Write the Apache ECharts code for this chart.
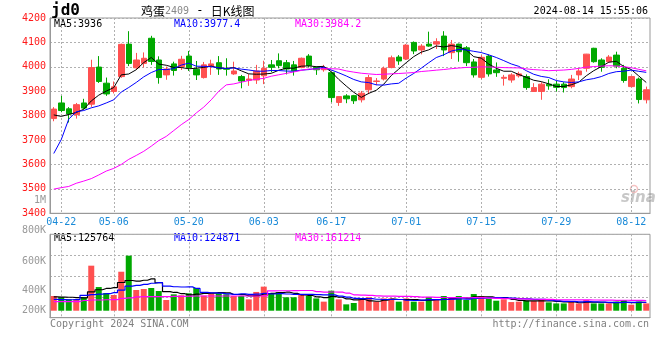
<!DOCTYPE html>
<html><head><meta charset="utf-8">
<script src="https://cdn.jsdelivr.net/npm/echarts@6/dist/echarts.min.js"></script>
<style>html,body{margin:0;padding:0;background:#fff}#c{width:660px;height:360px}</style>
</head><body><div id="c"></div>
<script>
const dates = ['04-19','04-22','04-23','04-24','04-25','04-26','04-29','04-30',
'05-06','05-07','05-08','05-09','05-10','05-13','05-14','05-15','05-16','05-17',
'05-20','05-21','05-22','05-23','05-24','05-27','05-28','05-29','05-30','05-31',
'06-03','06-04','06-05','06-06','06-07','06-11','06-12','06-13','06-14',
'06-17','06-18','06-19','06-20','06-21','06-24','06-25','06-26','06-27','06-28',
'07-01','07-02','07-03','07-04','07-05','07-08','07-09','07-10','07-11','07-12',
'07-15','07-16','07-17','07-18','07-19','07-22','07-23','07-24','07-25','07-26',
'07-29','07-30','07-31','08-01','08-02','08-05','08-06','08-07','08-08','08-09',
'08-12','08-13','08-14'];
const opens = [3788,3852,3828,3804,3852,3847,3999,3933,3899,3960,4093,3996,4014,4117,4028,3967,4012,4001,4044,3990,
3956,4002,4017,3993,3971,3960,3945,3946,3963,4008,4025,4017,4008,3997,4044,3998,3988,3976,3854,3881,
3882,3865,3906,3940,3950,3997,4040,4032,4100,4069,4093,4093,4126,4058,4093,4078,4020,3957,4044,3987,
3953,3946,3963,3960,3899,3899,3929,3929,3929,3919,3967,3994,4076,4028,4021,4048,3994,3919,3950,3865];
const closes = [3827,3821,3807,3845,3831,3997,3940,3889,3918,4092,4014,4028,4035,4022,3956,3991,3985,4031,3997,3967,
4008,4012,3991,3990,3983,3942,3950,3983,3994,3998,4005,3991,3984,4035,4005,3988,3997,3874,3878,3869,
3861,3892,3956,3942,3994,4037,4024,4089,4065,4085,4085,4103,4069,4093,4062,4017,3967,4039,3971,3976,
3957,3967,3971,3915,3915,3929,3922,3916,3915,3950,3983,4052,4021,3998,4040,4003,3944,3960,3866,3906];
const lows = [3777,3814,3772,3788,3826,3836,3934,3881,3891,3955,4003,3987,3998,4008,3931,3947,3964,3987,3983,3946,
3952,3967,3967,3964,3967,3912,3922,3930,3929,3978,3994,3969,3964,3994,3997,3967,3980,3855,3840,3851,
3848,3854,3888,3925,3944,3994,4008,4028,4052,4051,4082,4073,4044,4032,4021,4003,3956,3950,3960,3959,
3923,3935,3956,3906,3897,3865,3906,3899,3895,3912,3946,3980,4017,3980,4017,3994,3935,3916,3850,3850];
const highs = [3835,3881,3835,3852,3869,4029,4044,3956,3940,4095,4146,4057,4059,4127,4043,4001,4021,4045,4065,4024,
4020,4029,4044,4035,4021,3967,3970,4008,4025,4028,4055,4028,4024,4038,4052,4001,4008,3980,3879,3888,
3885,3901,3967,3954,4001,4046,4048,4093,4104,4093,4144,4117,4146,4110,4095,4085,4032,4048,4051,4018,
3967,3974,3980,3969,3933,3937,3949,3942,3937,3967,3994,4053,4078,4035,4048,4062,4008,3963,3956,3919];
// volume in thousands
const volumes = [208,196,176,176,196,499,294,237,218,441,595,266,275,285,256,170,224,215,234,285,
212,234,234,224,208,208,176,247,298,234,247,196,196,218,208,185,154,259,176,128,
141,170,196,154,185,185,154,185,154,154,199,170,208,185,208,170,227,208,185,163,
176,150,154,163,160,176,147,137,137,160,137,170,137,137,137,154,170,125,154,137];
// moving-average values before enough history is on screen
const ma5Head = [3803,3797,3805,3813];
const ma10Head = [3645,3702,3786,3816,3821,3832,3840,3852,3865];
const ma30Head = [3499,3505,3510,3523,3532,3542,3557,3573,3584,3600,3621,3637,3654,3675,3698,3715,3739,3763,3784,3811,3835,3865,3900,3926,3930,3937,3944,3949,3953];
const volMa5Head = [200,198,196,192];
const volMa10Head = [175,174,172,174,215,222,226,230,240];
const volMa30Head = [154,154,154,155,165,170,170,172,173,185,190,200,202,202,203,203,204,204,206,208,208,208,208,208,208,208,208,208,209];
const labelDates = ['04-22','05-06','05-20','06-03','06-17','07-01','07-15','07-29','08-12'];
const priceMin = 3400, priceMax = 4200, priceStep = 100;
const volMin = 0, volMax = 800, volStep = 200;
const volTickLabels = ['800K','600K','400K','200K'];
const VOL_BASE = 67;

function movingAvg(vals, n, head) {
  return vals.map((v, i) => {
    if (i < n - 1) return head[i];
    let s = 0; for (let k = i - n + 1; k <= i; k++) s += vals[k];
    return +(s / n).toFixed(2);
  });
}
const RED = '#ff5050', GREEN = '#00a800';
const MONO = '"DejaVu Sans Mono", monospace';
const candle = dates.map((d, i) => [opens[i], closes[i], lows[i], highs[i]]);
const up = i => closes[i] >= opens[i];
const isLab = (i, v) => labelDates.indexOf(v) >= 0;

const chart = echarts.init(document.getElementById('c'), null, {renderer: 'canvas'});
const gridLine = {show: true, lineStyle: {color: '#b0b0b0', type: [2, 2], width: 1}};
const txt = (text, x, y, fill, align) => ({type: 'text', x: x, y: y, silent: true,
  style: {text: text, font: '10px ' + MONO, fill: fill, textAlign: align || 'left', textVerticalAlign: 'middle'}});

chart.setOption({
  animation: false,
  backgroundColor: '#fff',
  grid: [
    {left: 50, top: 18, width: 600, height: 195.3, show: true, borderColor: '#999', borderWidth: 1, outerBoundsMode: 'none'},
    {left: 50, top: 234.3, width: 600, height: 83.4, show: true, borderColor: '#999', borderWidth: 1, outerBoundsMode: 'none'}
  ],
  xAxis: [
    {type: 'category', gridIndex: 0, data: dates, boundaryGap: true,
     axisLine: {show: true, lineStyle: {color: '#999'}}, axisTick: {show: false},
     axisLabel: {interval: isLab, color: '#1a8ad8', fontFamily: MONO, fontSize: 10, margin: 4},
     splitLine: Object.assign({interval: isLab, alignWithLabel: true}, gridLine)},
    {type: 'category', gridIndex: 1, data: dates, boundaryGap: true,
     axisLine: {show: true, lineStyle: {color: '#999'}}, axisTick: {show: false}, axisLabel: {show: false},
     splitLine: Object.assign({interval: isLab, alignWithLabel: true}, gridLine)}
  ],
  yAxis: [
    {type: 'value', gridIndex: 0, min: priceMin, max: priceMax, interval: priceStep,
     axisLine: {show: true, lineStyle: {color: '#999'}}, axisTick: {show: false},
     axisLabel: {color: '#ff1a1a', fontFamily: MONO, fontSize: 10, margin: 4, formatter: v => String(v)},
     splitLine: gridLine},
    {type: 'value', gridIndex: 1, min: volMin, max: volMax, interval: volStep,
     axisLine: {show: true, lineStyle: {color: '#999'}}, axisTick: {show: false},
     axisLabel: {show: false}, splitLine: gridLine}
  ],
  series: [
    {type: 'candlestick', xAxisIndex: 0, yAxisIndex: 0, data: candle, barWidth: 6,
     itemStyle: {color: RED, color0: GREEN, borderColor: RED, borderColor0: GREEN, borderWidth: 1}},
    {type: 'line', xAxisIndex: 0, yAxisIndex: 0, data: movingAvg(closes, 5, ma5Head), symbol: 'none',
     lineStyle: {color: '#000', width: 1}, z: 5},
    {type: 'line', xAxisIndex: 0, yAxisIndex: 0, data: movingAvg(closes, 10, ma10Head), symbol: 'none',
     lineStyle: {color: '#0000ff', width: 1}, z: 5},
    {type: 'line', xAxisIndex: 0, yAxisIndex: 0, data: movingAvg(closes, 30, ma30Head), symbol: 'none',
     lineStyle: {color: '#ff00ff', width: 1}, z: 5},
    {type: 'bar', xAxisIndex: 1, yAxisIndex: 1, stack: 'vol', barWidth: 6, silent: true,
     data: volumes.map(() => VOL_BASE), itemStyle: {color: 'rgba(0,0,0,0)'}},
    {type: 'bar', xAxisIndex: 1, yAxisIndex: 1, stack: 'vol', barWidth: 6,
     data: volumes.map((v, i) => ({value: v - VOL_BASE, itemStyle: {color: up(i) ? RED : GREEN}}))},
    {type: 'line', xAxisIndex: 1, yAxisIndex: 1, data: movingAvg(volumes, 5, volMa5Head), symbol: 'none', step: 'middle',
     lineStyle: {color: '#000', width: 1.2}, z: 5},
    {type: 'line', xAxisIndex: 1, yAxisIndex: 1, data: movingAvg(volumes, 10, volMa10Head), symbol: 'none', step: 'middle',
     lineStyle: {color: '#0000ff', width: 1.2}, z: 5},
    {type: 'line', xAxisIndex: 1, yAxisIndex: 1, data: movingAvg(volumes, 30, volMa30Head), symbol: 'none', step: 'middle',
     lineStyle: {color: '#ff00ff', width: 1.2}, z: 5}
  ],
  graphic: [
    {type: 'text', x: 51, y: 11, silent: true, style: {text: 'jd0', font: 'bold 16px ' + MONO, fill: '#000', textVerticalAlign: 'middle'}},
    {type: 'text', x: 141, y: 11, silent: true, style: {
      text: '{a|鸡蛋}{b|2409}{c| - }{a|日K线图}', textVerticalAlign: 'middle',
      rich: {a: {font: '12px "Noto Sans CJK SC"', fill: '#000'},
             b: {font: '10px ' + MONO, fill: '#888'},
             c: {font: '12px ' + MONO, fill: '#000'}}}},
    txt('2024-08-14 15:55:06', 648, 11, '#000', 'right'),
    txt('MA5:3936', 54, 24, '#000'),
    txt('MA10:3977.4', 174, 24, '#0000ff'),
    txt('MA30:3984.2', 295, 24, '#ff00ff'),
    txt('1M', 46, 200.5, '#999', 'right'),
    txt(volTickLabels[0], 46, 230.5, '#999', 'right'),
    txt(volTickLabels[1], 46, 261, '#999', 'right'),
    txt(volTickLabels[2], 46, 290, '#999', 'right'),
    txt(volTickLabels[3], 46, 310, '#999', 'right'),
    txt('MA5:125764', 54, 238.5, '#000'),
    txt('MA10:124871', 174, 238.5, '#0000ff'),
    txt('MA30:161214', 295, 238.5, '#ff00ff'),
    txt('Copyright 2024 SINA.COM', 50, 324, '#808080'),
    txt('http://finance.sina.com.cn', 649, 324, '#808080', 'right'),
    {type: 'circle', silent: true, shape: {cx: 634, cy: 189, r: 3.5}, style: {fill: 'none', stroke: 'rgba(230,80,80,0.35)', lineWidth: 1.5}},
    {type: 'text', x: 621, y: 198, silent: true, style: {text: 'sina', font: 'italic bold 15px "DejaVu Sans"', fill: 'rgba(130,130,130,0.45)', textVerticalAlign: 'middle'}}
  ]
});
</script></body></html>
